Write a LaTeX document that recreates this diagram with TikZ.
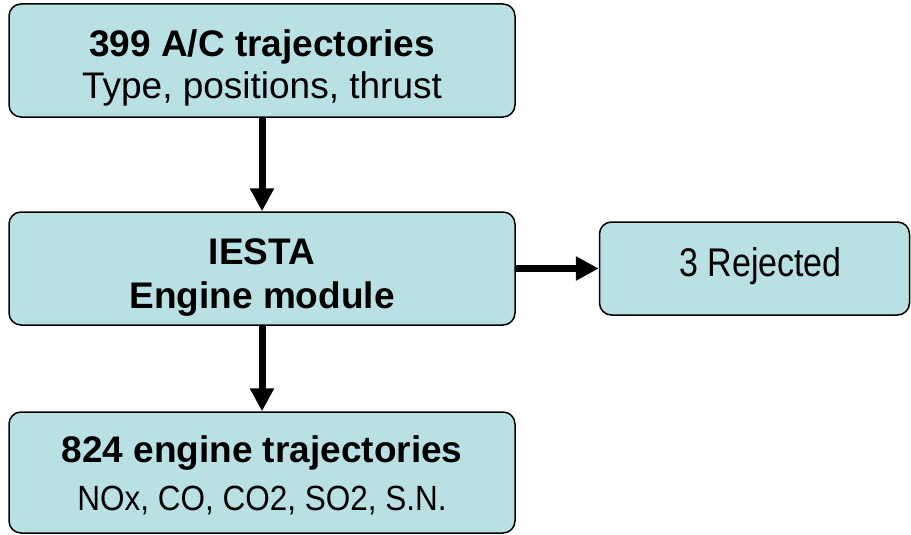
\documentclass[tikz,border=0pt]{standalone}
\usepackage{fontspec}
\setmainfont{Liberation Sans}
\newfontfamily\rejectfont[FakeStretch=0.85]{Liberation Sans}
\newfontfamily\gasfont[FakeStretch=0.9]{Liberation Sans}
\usepackage{tikz}
\usetikzlibrary{arrows.meta}
\usetikzlibrary{positioning}

\definecolor{boxfill}{RGB}{185,224,227}

\begin{document}
\begin{tikzpicture}[x=1pt,y=-1pt,
    box/.style={draw=black,line width=1.5pt,fill=boxfill,rounded corners=12pt,
        inner sep=0pt,align=center},
    flow/.style={line width=7pt,-{Triangle[length=23pt,width=23pt]}}]
    % Parameters
    \pgfmathsetmacro{\boxwidth}{506}
    \pgfmathsetmacro{\colx}{262}

    \useasboundingbox (0,0) rectangle (911,535);

    % Let's draw! (text height/depth set so the last baseline sits right)
    \node[box,minimum width=\boxwidth pt,minimum height=113pt,text height=85pt,text depth=9.4pt,
        font=\fontsize{37}{41.6}\selectfont] (aircraft) at (\colx,60.5)
        {\textbf{399 A/C trajectories}\\Type, positions, thrust};
    \node[box,minimum width=\boxwidth pt,minimum height=113pt,text height=90pt,text depth=10.4pt,
        font=\fontsize{37}{44}\selectfont\bfseries] (iesta) at (\colx,268.5)
        {IESTA\\Engine module};
    \node[box,minimum width=310pt,minimum height=93pt,text height=30pt,text depth=13.6pt,
        font=\fontsize{40}{44}\rejectfont] (rejected) at (754.5,268.5)
        {\hspace*{12pt}3 Rejected};
    \node[box,minimum width=\boxwidth pt,minimum height=121pt,text height=85pt,text depth=10pt,
        font=\fontsize{37}{48}\selectfont] (engines) at (\colx,472.5)
        {\textbf{824 engine trajectories}\\{\fontsize{35}{48}\gasfont NOx, CO, CO2, SO2, S.N.}};

    % Arrows
    \draw[flow] (aircraft) -- (iesta);
    \draw[flow] (iesta) -- (engines);
    \draw[flow] (iesta.east) -- (rejected.west);
\end{tikzpicture}
\end{document}
